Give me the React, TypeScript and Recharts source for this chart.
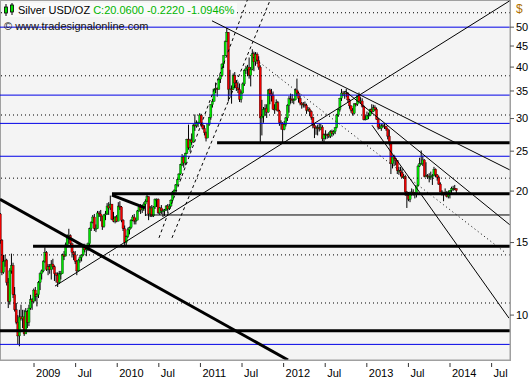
import React from "react";
import { ComposedChart, Bar, XAxis, YAxis, ReferenceLine } from "recharts";

// weekly bars: open, high, low, close
type Candle = [number, number, number, number];

const firstWeek = Date.UTC(2008, 7, 4); // monday of the first bar

const candles2008: Candle[] = [
  [17.6, 17.7, 14.9, 15.2], [15.2, 15.3, 12.5, 12.7], [12.7, 14.0, 12.6, 13.5], [13.5, 14.0, 13.1, 13.6],
  [13.6, 13.7, 11.8, 12.0], [12.0, 12.3, 10.4, 10.8], [10.8, 13.0, 10.6, 12.8], [12.8, 14.1, 12.6, 13.2],
  [13.2, 13.4, 11.0, 11.2], [11.2, 11.7, 10.2, 10.3], [10.3, 10.7, 9.5, 9.6], [9.6, 10.0, 8.5, 8.9],
  [8.9, 10.3, 8.4, 9.9], [9.9, 10.6, 9.7, 9.8], [9.8, 10.3, 9.3, 9.9], [9.9, 10.3, 8.9, 9.0],
  [9.0, 10.4, 9.0, 10.2], [10.2, 10.3, 9.3, 9.6], [9.6, 10.6, 9.4, 10.4], [10.4, 11.2, 10.3, 10.9],
  [10.9, 11.0, 10.3, 10.8], [10.8, 11.6, 10.7, 11.5],
];

const candles2009: Candle[] = [
  [11.5, 11.7, 10.8, 11.1], [11.1, 11.3, 10.5, 11.2], [11.2, 12.1, 11.0, 12.0], [12.0, 12.7, 11.5, 12.6],
  [12.6, 12.9, 12.2, 12.8], [12.8, 13.6, 12.7, 13.5], [13.5, 14.6, 13.4, 14.2], [14.2, 14.3, 12.8, 12.9],
  [12.9, 13.3, 12.5, 13.1], [13.1, 13.3, 12.6, 12.9], [12.9, 13.6, 12.2, 13.3], [13.3, 13.7, 12.9, 13.1],
  [13.1, 13.2, 12.1, 12.6], [12.6, 12.7, 12.0, 12.5], [12.5, 12.7, 11.7, 12.0], [12.0, 12.8, 11.9, 12.6],
  [12.6, 12.8, 12.2, 12.6], [12.6, 14.1, 12.6, 14.0], [14.0, 14.3, 13.6, 13.9], [13.9, 15.0, 13.9, 14.8],
  [14.8, 15.7, 14.6, 15.6], [15.6, 16.2, 14.9, 15.6], [15.6, 15.7, 14.6, 14.9], [14.9, 15.0, 13.8, 14.2],
  [14.2, 14.3, 13.6, 14.0], [14.0, 14.3, 13.3, 13.5], [13.5, 13.6, 12.5, 12.8], [12.8, 13.7, 12.8, 13.6],
  [13.6, 14.0, 13.4, 13.8], [13.8, 14.0, 13.5, 14.0], [14.0, 14.9, 13.9, 14.6], [14.6, 14.9, 14.2, 14.4],
  [14.4, 14.6, 13.9, 14.5], [14.5, 15.0, 14.3, 14.9], [14.9, 16.3, 14.6, 16.2], [16.2, 16.9, 16.0, 16.8],
  [16.8, 17.5, 16.7, 17.3], [17.3, 17.6, 16.0, 16.2], [16.2, 16.6, 15.9, 16.2], [16.2, 17.9, 16.2, 17.7],
  [17.7, 17.9, 17.3, 17.6], [17.6, 18.0, 16.9, 17.4], [17.4, 17.4, 16.1, 16.4], [16.4, 17.6, 16.3, 17.5],
  [17.5, 17.9, 17.0, 17.6], [17.6, 18.7, 17.5, 18.4], [18.4, 18.8, 17.5, 18.2], [18.2, 19.5, 18.0, 18.6],
  [18.6, 18.6, 17.0, 17.1], [17.1, 17.8, 16.8, 16.9], [16.9, 17.4, 16.7, 17.3], [17.3, 17.5, 16.8, 16.9],
];

const candles2010: Candle[] = [
  [16.9, 18.8, 16.9, 18.4], [18.4, 18.9, 18.0, 18.3], [18.3, 18.4, 16.8, 17.0], [17.0, 17.1, 16.0, 16.2],
  [16.2, 16.5, 14.8, 15.0], [15.0, 15.6, 14.8, 15.5], [15.5, 16.3, 15.4, 16.1], [16.1, 16.4, 15.7, 16.3],
  [16.3, 17.1, 16.2, 17.0], [17.0, 17.5, 16.9, 17.3], [17.3, 17.6, 16.6, 16.9], [16.9, 17.2, 16.6, 17.0],
  [17.0, 18.0, 17.0, 17.9], [17.9, 18.4, 17.8, 18.3], [18.3, 18.6, 17.6, 18.0], [18.0, 18.5, 17.7, 18.3],
  [18.3, 18.8, 17.9, 18.6], [18.6, 19.1, 17.4, 18.9], [18.9, 19.8, 18.8, 19.4], [19.4, 19.4, 17.0, 17.6],
  [17.6, 18.4, 17.3, 18.2], [18.2, 18.5, 17.3, 17.4], [17.4, 18.4, 17.3, 18.3], [18.3, 19.2, 18.1, 19.1],
  [19.1, 19.2, 18.3, 19.1], [19.1, 19.2, 17.6, 17.7], [17.7, 18.3, 17.5, 18.2], [18.2, 18.5, 17.6, 17.9],
  [17.9, 18.1, 17.3, 17.9], [17.9, 18.1, 17.4, 18.0], [18.0, 18.5, 17.9, 18.4], [18.4, 18.6, 17.7, 18.1],
  [18.1, 18.6, 18.0, 18.4], [18.4, 19.1, 18.3, 19.0], [19.0, 20.0, 18.9, 19.9], [19.9, 20.2, 19.6, 20.1],
  [20.1, 20.8, 20.0, 20.7], [20.7, 21.4, 20.6, 21.3], [21.3, 22.1, 21.3, 22.0], [22.0, 23.3, 21.9, 23.2],
  [23.2, 24.6, 23.0, 24.2], [24.2, 24.4, 22.8, 23.4], [23.4, 24.8, 23.1, 24.7], [24.7, 26.8, 24.6, 26.7],
  [26.7, 29.0, 25.2, 25.5], [25.5, 26.8, 24.9, 26.6], [26.6, 27.6, 25.9, 26.3], [26.3, 29.1, 26.2, 28.9],
  [28.9, 30.7, 28.0, 28.8], [28.8, 29.7, 28.5, 29.3], [29.3, 29.5, 28.6, 29.3], [29.3, 30.9, 29.2, 30.6],
];

const candles2011: Candle[] = [
  [30.6, 30.8, 28.6, 28.9], [28.9, 29.3, 28.2, 28.4], [28.4, 28.9, 27.3, 27.7], [27.7, 27.9, 26.4, 26.9],
  [26.9, 29.0, 26.9, 29.0], [29.0, 30.3, 28.8, 30.2], [30.2, 32.5, 29.8, 32.4], [32.4, 33.5, 31.9, 33.0],
  [33.0, 35.4, 33.0, 35.4], [35.4, 36.7, 34.6, 35.5], [35.5, 35.7, 33.9, 35.3], [35.3, 37.5, 35.3, 37.4],
  [37.4, 38.2, 36.6, 38.1], [38.1, 40.8, 37.9, 40.7], [40.7, 42.7, 39.8, 42.6], [42.6, 46.4, 42.5, 46.1],
  [46.1, 49.8, 46.0, 48.6], [48.6, 48.6, 33.0, 35.3], [35.3, 39.4, 34.0, 35.4], [35.4, 36.1, 32.6, 35.3],
  [35.3, 38.6, 35.2, 38.2], [38.2, 38.9, 35.6, 36.6], [36.6, 37.2, 35.0, 35.6], [35.6, 36.9, 34.6, 35.3],
  [35.3, 36.5, 32.9, 33.4], [33.4, 35.1, 32.8, 34.6], [34.6, 36.7, 34.5, 36.4], [36.4, 39.5, 36.0, 39.3],
  [39.3, 40.3, 38.5, 39.6], [39.6, 40.5, 38.0, 40.0], [40.0, 42.2, 37.5, 38.2], [38.2, 40.0, 35.9, 39.5],
  [39.5, 44.2, 39.3, 43.1], [43.1, 43.6, 39.1, 41.2], [41.2, 43.5, 40.3, 43.0], [43.0, 43.4, 40.7, 41.5],
  [41.5, 42.5, 39.4, 40.0], [40.0, 40.4, 26.1, 30.1], [30.1, 33.3, 27.3, 30.4], [30.4, 32.0, 29.3, 31.6],
  [31.6, 32.5, 30.5, 31.8], [31.8, 32.5, 30.1, 31.1], [31.1, 35.4, 31.0, 35.2], [35.2, 35.5, 32.5, 34.5],
  [34.5, 35.4, 33.0, 34.1], [34.1, 34.9, 31.5, 31.6], [31.6, 32.5, 30.8, 31.5], [31.5, 33.4, 31.4, 32.8],
  [32.8, 33.1, 31.2, 31.3], [31.3, 31.5, 28.8, 29.3], [29.3, 29.7, 28.2, 29.1], [29.1, 29.4, 26.2, 28.2],
];

const candles2012: Candle[] = [
  [28.2, 29.6, 28.1, 29.0], [29.0, 30.3, 28.7, 30.1], [30.1, 32.5, 29.6, 32.3], [32.3, 34.0, 31.0, 33.5],
  [33.5, 34.5, 32.6, 33.4], [33.4, 34.4, 32.7, 33.2], [33.2, 33.6, 32.5, 33.3], [33.3, 35.5, 33.2, 35.2],
  [35.2, 37.5, 34.0, 34.6], [34.6, 34.9, 32.8, 33.6], [33.6, 34.1, 32.3, 32.7], [32.7, 32.9, 31.7, 32.4],
  [32.4, 32.9, 31.9, 32.5], [32.5, 33.0, 31.9, 32.3], [32.3, 32.6, 30.8, 31.4], [31.4, 32.0, 31.2, 31.6],
  [31.6, 31.9, 30.4, 31.2], [31.2, 31.4, 29.8, 30.2], [30.2, 30.3, 28.4, 28.9], [28.9, 29.1, 26.9, 28.5],
  [28.5, 28.8, 27.4, 28.4], [28.4, 29.0, 27.3, 28.5], [28.5, 29.2, 27.9, 28.3], [28.3, 29.1, 28.1, 28.6],
  [28.6, 28.9, 26.4, 26.8], [26.8, 27.6, 26.1, 27.4], [27.4, 28.1, 26.7, 27.3], [27.3, 27.6, 26.8, 27.4],
  [27.4, 27.8, 26.9, 27.2], [27.2, 28.1, 26.9, 27.9], [27.9, 28.2, 27.1, 27.6], [27.6, 28.1, 27.3, 27.9],
  [27.9, 28.6, 27.5, 28.5], [28.5, 30.8, 28.4, 30.6], [30.6, 31.7, 30.3, 31.6], [31.6, 33.7, 31.2, 33.6],
  [33.6, 35.4, 33.1, 34.6], [34.6, 35.0, 34.0, 34.5], [34.5, 35.0, 33.5, 34.6], [34.6, 35.4, 33.8, 34.5],
  [34.5, 34.8, 32.9, 33.3], [33.3, 33.5, 31.7, 32.2], [32.2, 32.3, 31.0, 31.4], [31.4, 31.8, 30.5, 30.9],
  [30.9, 32.5, 30.7, 32.6], [32.6, 32.7, 32.1, 32.5], [32.5, 34.1, 32.2, 34.1], [34.1, 34.7, 33.0, 33.0],
  [33.0, 33.8, 32.6, 33.1], [33.1, 33.6, 31.9, 32.1], [32.1, 32.3, 29.7, 29.8], [29.8, 30.5, 29.7, 29.9],
  [29.9, 31.2, 29.8, 30.5],
];

const candles2013: Candle[] = [
  [30.5, 31.0, 29.9, 30.5], [30.5, 31.7, 30.4, 31.6], [31.6, 32.5, 30.8, 31.2], [31.2, 32.4, 31.1, 31.9],
  [31.9, 32.3, 31.3, 31.6], [31.6, 31.9, 29.8, 29.9], [29.9, 30.1, 28.2, 28.6], [28.6, 29.2, 28.3, 28.4],
  [28.4, 29.1, 28.0, 28.8], [28.8, 29.1, 28.5, 28.8], [28.8, 29.2, 28.3, 28.7], [28.7, 28.8, 28.0, 28.3],
  [28.3, 28.4, 26.7, 27.2], [27.2, 28.2, 25.8, 26.1], [26.1, 26.2, 22.0, 23.3], [23.3, 24.4, 22.7, 24.3],
  [24.3, 24.5, 23.0, 24.0], [24.0, 24.0, 23.1, 23.7], [23.7, 23.8, 22.0, 22.4], [22.4, 22.9, 21.9, 22.4],
  [22.4, 22.9, 21.7, 22.2], [22.2, 22.7, 21.5, 21.6], [21.6, 22.0, 21.4, 21.7], [21.7, 21.8, 19.5, 19.9],
  [19.9, 20.0, 18.2, 19.5], [19.5, 19.9, 18.9, 19.1], [19.1, 19.9, 18.8, 19.9], [19.9, 20.3, 19.5, 19.9],
  [19.9, 20.2, 19.5, 19.7], [19.7, 19.9, 19.2, 19.6], [19.6, 20.6, 19.3, 20.6], [20.6, 23.2, 20.5, 23.0],
  [23.0, 24.1, 22.9, 23.3], [23.3, 25.1, 23.2, 23.3], [23.3, 24.4, 23.0, 23.8], [23.8, 23.9, 21.6, 21.7],
  [21.7, 23.5, 21.6, 21.8], [21.8, 22.0, 21.4, 21.7], [21.7, 22.1, 21.0, 21.7], [21.7, 22.3, 21.3, 21.7],
  [21.7, 22.0, 20.7, 21.8], [21.8, 22.9, 21.7, 22.6], [22.6, 22.7, 21.6, 21.9], [21.9, 22.0, 21.2, 21.6],
  [21.6, 21.8, 20.7, 20.8], [20.8, 21.0, 19.9, 19.9], [19.9, 20.1, 19.5, 19.9], [19.9, 19.9, 18.9, 19.6],
  [19.6, 20.3, 19.5, 19.8], [19.8, 20.0, 19.3, 19.4], [19.4, 20.0, 19.2, 19.9], [19.9, 20.1, 19.2, 20.1],
];

const candles2014: Candle[] = [
  [20.1, 20.5, 19.7, 20.3], [20.3, 20.6, 20.0, 20.3], [20.3, 20.7, 20.1, 20.28], [20.28, 20.3, 19.6, 20.06],
];

const allCandles = [
  ...candles2008, ...candles2009, ...candles2010, ...candles2011,
  ...candles2012, ...candles2013, ...candles2014,
];

const yTicks = [10, 15, 20, 25, 30, 35, 40, 45, 50];
const xTicks = [2009, 2009.5, 2010, 2010.5, 2011, 2011.5, 2012, 2012.5, 2013, 2013.5, 2014, 2014.5];

// horizontal levels
const blueLevels = [50, 34.2, 29.2, 24.3, 8.49];
const dottedLevels = [54.2, 38.1, 30.6, 21.5, 14.0, 10.7];
// [price, start year]
const thickLevels: [number, number][] = [[26.2, 2011.2], [19.7, 2009.937], [14.7, 2008.988], [9.16, 2008.55]];
const thinLevels: [number, number][] = [[17.5, 2010.334]];

// trend lines: [year1, price1, year2, price2, kind]
type Kind = "thick" | "thin" | "dash" | "dot";
const trendLines: [number, number, number, number, Kind][] = [
  [2008.591, 19.1, 2012.053, 7.78, "thick"],
  [2009.937, 19.56, 2010.334, 18.2, "thick"],
  [2009.252, 11.76, 2014.721, 58.0, "thin"],
  [2011.139, 51.8, 2014.721, 22.5, "thin"],
  [2012.738, 35.0, 2014.721, 16.55, "thin"],
  [2013.062, 28.9, 2014.709, 9.83, "thin"],
  [2011.596, 42.8, 2014.661, 14.2, "dot"],
  [2010.502, 15.4, 2011.587, 59.9, "dash"],
  [2010.658, 15.4, 2011.864, 59.9, "dash"],
];

const lineStyle: Record<Kind, { stroke: string; strokeWidth: number; strokeDasharray?: string }> = {
  thick: { stroke: "#000", strokeWidth: 3 },
  thin: { stroke: "#000", strokeWidth: 1 },
  dash: { stroke: "#000", strokeWidth: 1, strokeDasharray: "3 3" },
  dot: { stroke: "#000", strokeWidth: 1, strokeDasharray: "1 3" },
};

const toYear = (ms: number) => {
  const y = new Date(ms).getUTCFullYear();
  const start = Date.UTC(y, 0, 1);
  const end = Date.UTC(y + 1, 0, 1);
  return y + (ms - start) / (end - start);
};

const data = allCandles.map((c, i) => ({
  t: toYear(firstWeek + (i * 7 + 2) * 86400000),
  range: [c[2], c[1]],
  open: c[0],
  high: c[1],
  low: c[2],
  close: c[3],
}));

const X_MIN = 2008.591;
const X_MAX = 2014.721;
const FONT = "'Liberation Sans', Arial, sans-serif";

const CandleShape = (props: any) => {
  const { x, y, width, height, payload } = props;
  if (!payload) return null;
  const top = Math.min(y, y + height);
  const h = Math.abs(height);
  const { open, close, high, low } = payload;
  const cx = x + width / 2;
  const span = Math.log(high) - Math.log(low);
  const toPx = (v: number) => (span > 0 ? top + (h * (Math.log(high) - Math.log(v))) / span : top);
  const bTop = toPx(Math.max(open, close));
  const bBot = toPx(Math.min(open, close));
  const up = close >= open;
  return (
    <g>
      <line x1={cx} x2={cx} y1={top} y2={top + h} stroke="#000" strokeWidth={1} />
      <rect
        x={cx - 1.1}
        y={bTop}
        width={2.2}
        height={Math.max(bBot - bTop, 0.8)}
        fill={up ? "#00e000" : "#ee0000"}
        stroke="#000"
        strokeWidth={0.3}
      />
    </g>
  );
};

const XTick = (props: any) => {
  const { x, y, payload } = props;
  const v = payload.value as number;
  const label = Number.isInteger(v) ? String(v) : "Jul";
  return (
    <g>
      <line x1={x} x2={x} y1={y - 5} y2={y - 1} stroke="#333" />
      <text x={x + 2} y={y + 9} fontSize={11} fontFamily={FONT} fill="#000">
        {label}
      </text>
    </g>
  );
};

export default function App() {
  return (
    <div style={{ position: "absolute", left: 0, top: 0, width: 532, height: 380, background: "#fff" }}>
      <div
        style={{
          position: "absolute",
          left: 0,
          top: 0,
          width: 511,
          height: 361,
          boxSizing: "border-box",
          border: "1px solid #a0a0a0",
          background: "#f4f4f4",
        }}
      />
      <div style={{ position: "absolute", left: 0, top: 0 }}>
        <ComposedChart width={532} height={380} data={data} margin={{ top: 0, right: 0, left: 0, bottom: 0 }}>
          <XAxis
            dataKey="t"
            type="number"
            domain={[X_MIN, X_MAX]}
            allowDataOverflow
            ticks={xTicks}
            interval={0}
            height={20}
            tickLine={false}
            axisLine={{ stroke: "#a0a0a0" }}
            tick={<XTick />}
          />
          <YAxis
            orientation="right"
            scale="log"
            domain={[7.78, 58.2]}
            allowDataOverflow
            ticks={yTicks}
            interval={0}
            width={22}
            tickSize={4}
            tickMargin={2}
            tickLine={{ stroke: "#555" }}
            axisLine={{ stroke: "#a0a0a0" }}
            tick={{ fontSize: 11, fontFamily: FONT, fill: "#000" }}
          />
          {blueLevels.map((v) => (
            <ReferenceLine key={"b" + v} y={v} stroke="#0000e6" strokeWidth={1} ifOverflow="hidden" />
          ))}
          {dottedLevels.map((v) => (
            <ReferenceLine key={"d" + v} y={v} stroke="#000" strokeDasharray="1 3" ifOverflow="hidden" />
          ))}
          <Bar dataKey="range" barSize={2} shape={<CandleShape />} isAnimationActive={false} />
          {thickLevels.map(([v, t]) => (
            <ReferenceLine
              key={"k" + v}
              segment={[{ x: t, y: v }, { x: X_MAX, y: v }]}
              stroke="#000"
              strokeWidth={3}
              ifOverflow="hidden"
            />
          ))}
          {thinLevels.map(([v, t]) => (
            <ReferenceLine
              key={"n" + v}
              segment={[{ x: t, y: v }, { x: X_MAX, y: v }]}
              stroke="#000"
              strokeWidth={1}
              ifOverflow="hidden"
            />
          ))}
          {trendLines.map(([t1, v1, t2, v2, kind], i) => (
            <ReferenceLine
              key={"t" + i}
              segment={[{ x: t1, y: v1 }, { x: t2, y: v2 }]}
              {...lineStyle[kind]}
              ifOverflow="hidden"
            />
          ))}
        </ComposedChart>
      </div>
      <div
        style={{
          position: "absolute",
          left: 516,
          top: 2,
          fontSize: 12,
          fontFamily: FONT,
          color: "#b07000",
        }}
      >
        $
      </div>
      <div
        style={{
          position: "absolute",
          left: 3,
          top: 3,
          display: "flex",
          alignItems: "center",
          fontSize: 11,
          fontFamily: FONT,
          whiteSpace: "nowrap",
          background: "#fafafa",
          paddingRight: 3,
        }}
      >
        <svg width={12} height={14} style={{ marginRight: 3 }}>
          <line x1={3} x2={3} y1={1} y2={13} stroke="#000" />
          <rect x={1.5} y={4} width={3} height={6} fill="#00e000" stroke="#000" strokeWidth={0.8} />
          <line x1={9} x2={9} y1={0} y2={12} stroke="#000" />
          <rect x={7.5} y={2} width={3} height={7} fill="#00e000" stroke="#000" strokeWidth={0.8} />
        </svg>
        <span style={{ color: "#000" }}>Silver USD/OZ</span>
        <span style={{ color: "#00b400", marginLeft: 3 }}>C:20.0600 -0.2220 -1.0946%</span>
      </div>
      <div
        style={{
          position: "absolute",
          left: 4,
          top: 20,
          fontSize: 11,
          fontFamily: FONT,
          color: "#111",
          whiteSpace: "nowrap",
        }}
      >
        © www.tradesignalonline.com
      </div>
    </div>
  );
}
